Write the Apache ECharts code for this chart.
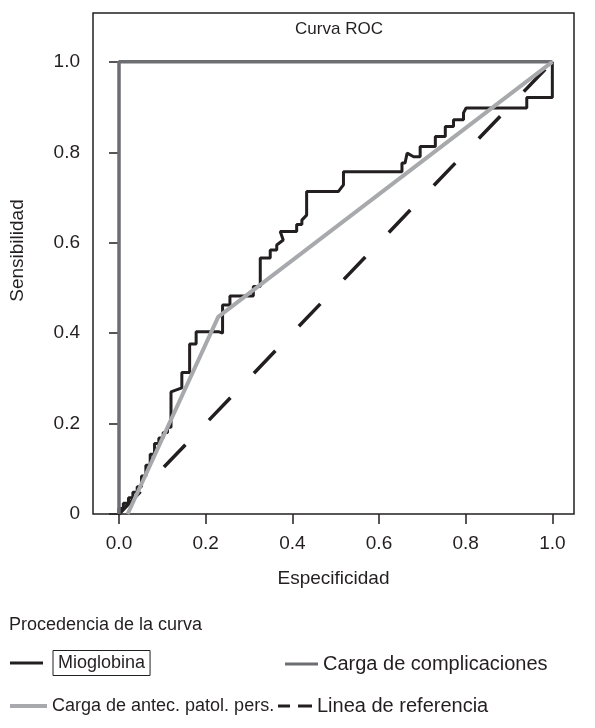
<!DOCTYPE html>
<html>
<head>
<meta charset="utf-8">
<script src="https://cdn.jsdelivr.net/npm/echarts@6/dist/echarts.min.js"></script>
<style>
  html, body { margin: 0; padding: 0; background: #fff; }
  #chart { width: 595px; height: 728px; }
</style>
</head>
<body>
<div id="chart"></div>
<script>
// ticks
const xTicks = [0, 0.2, 0.4, 0.6, 0.8, 1.0];
const yTicks = [0, 0.2, 0.4, 0.6, 0.8, 1.0];
const yTickLabels = ['0', '0.2', '0.4', '0.6', '0.8', '1.0'];

// Mioglobina (curva escalonada)
const mioX = [0, 0, 0.01, 0.01, 0.022, 0.022, 0.032, 0.032, 0.042, 0.042, 0.052, 0.052,
  0.062, 0.062, 0.072, 0.072, 0.082, 0.082, 0.092, 0.092, 0.102, 0.102, 0.112, 0.112,
  0.12, 0.12, 0.145, 0.145, 0.163, 0.163, 0.178, 0.178, 0.231, 0.239, 0.239, 0.256,
  0.256, 0.31, 0.31, 0.326, 0.326, 0.349, 0.349, 0.364, 0.364, 0.379, 0.372, 0.41,
  0.41, 0.422, 0.422, 0.433, 0.433, 0.506, 0.518, 0.518, 0.653, 0.653, 0.66, 0.665,
  0.68, 0.695, 0.695, 0.73, 0.73, 0.753, 0.753, 0.772, 0.772, 0.795, 0.795, 0.801,
  0.941, 0.941, 1.0, 1.0];
const mioY = [0, 0.012, 0.012, 0.024, 0.024, 0.036, 0.036, 0.048, 0.048, 0.06, 0.06, 0.084,
  0.084, 0.108, 0.108, 0.132, 0.132, 0.156, 0.156, 0.168, 0.168, 0.18, 0.18, 0.192,
  0.192, 0.27, 0.279, 0.313, 0.313, 0.376, 0.376, 0.403, 0.403, 0.4, 0.462, 0.462,
  0.482, 0.482, 0.503, 0.503, 0.566, 0.566, 0.584, 0.584, 0.595, 0.606, 0.625, 0.625,
  0.64, 0.64, 0.65, 0.661, 0.713, 0.713, 0.728, 0.757, 0.757, 0.776, 0.776, 0.798,
  0.79, 0.79, 0.813, 0.813, 0.835, 0.835, 0.857, 0.857, 0.872, 0.872, 0.887, 0.898,
  0.898, 0.921, 0.921, 1.0];

// Carga de complicaciones
const compX = [0, 0, 1];
const compY = [0, 1, 1];
// Carga de antec. patol. pers.
const antecX = [0.02, 0.229, 1];
const antecY = [0, 0.436, 1];
// Linea de referencia
const refX = [0, 1];
const refY = [0, 1];

const zip = (xs, ys) => xs.map((x, i) => [x, ys[i]]);

const font = "'Liberation Sans', Arial, sans-serif";
const ink = '#231f20';
const gray = '#6d6e71';
const lightGray = '#a7a9ac';

const chart = echarts.init(document.getElementById('chart'));

// leyendas: una por curva, colocadas a mano en dos columnas
const legendBase = {
  orient: 'horizontal',
  selectedMode: false,
  padding: 0,
  itemStyle: { borderWidth: 0 },
  textStyle: { fontFamily: font, fontSize: 18, color: ink },
};
const legendRight = { fontFamily: font, fontSize: 20, color: ink };

chart.setOption({
  animation: false,
  textStyle: { fontFamily: font },
  title: [
    {
      text: 'Curva ROC',
      left: 334,
      top: 16,
      textAlign: 'center',
      textStyle: { fontFamily: font, fontSize: 17, fontWeight: 'normal', color: ink },
    },
    {
      text: 'Procedencia de la curva',
      left: 9,
      top: 616,
      padding: 0,
      textStyle: { fontFamily: font, fontSize: 18, fontWeight: 'normal', color: ink },
    },
  ],
  grid: {
    left: 93,
    right: 21,
    top: 13,
    bottom: 214,
    show: true,
    borderColor: ink,
    borderWidth: 1.5,
    containLabel: false,
    outerBoundsMode: 'none',
  },
  xAxis: {
    type: 'value',
    min: -0.06,
    max: 1.05,
    name: 'Especificidad',
    nameLocation: 'middle',
    nameGap: 55,
    nameTextStyle: { fontFamily: font, fontSize: 19, color: ink },
    axisLine: { show: false },
    splitLine: { show: false },
    axisTick: { show: true, customValues: xTicks, length: 10, lineStyle: { color: ink, width: 1.5 } },
    axisLabel: {
      customValues: xTicks,
      margin: 20,
      fontFamily: font,
      fontSize: 19,
      color: ink,
      formatter: v => v.toFixed(1),
    },
  },
  yAxis: {
    type: 'value',
    min: 0,
    max: 1.108,
    name: 'Sensibilidad',
    nameLocation: 'middle',
    nameGap: 66,
    nameTextStyle: { fontFamily: font, fontSize: 19, color: ink, padding: [0, 0, 0, 26] },
    axisLine: { show: false },
    splitLine: { show: false },
    axisTick: { show: true, customValues: yTicks, length: 10, lineStyle: { color: ink, width: 1.5 } },
    axisLabel: {
      customValues: yTicks,
      margin: 13,
      fontFamily: font,
      fontSize: 19,
      color: ink,
      formatter: v => yTickLabels[yTicks.indexOf(v)] ?? '',
    },
  },
  legend: [
    {
      ...legendBase,
      data: [{ name: 'Mioglobina', icon: 'rect' }],
      itemWidth: 33,
      itemHeight: 3,
      left: 10,
      top: 650,
      formatter: ' {box|{name}}',
      textStyle: {
        ...legendBase.textStyle,
        rich: {
          box: {
            fontFamily: font,
            fontSize: 18,
            color: ink,
            borderColor: ink,
            borderWidth: 1,
            padding: [4, 5, 3, 5],
          },
        },
      },
    },
    {
      ...legendBase,
      data: [{ name: 'Carga de complicaciones', icon: 'rect' }],
      itemWidth: 33,
      itemHeight: 3,
      left: 285,
      top: 654,
      textStyle: legendRight,
    },
    {
      ...legendBase,
      data: [{ name: 'Carga de antec. patol. pers.', icon: 'rect' }],
      itemWidth: 37,
      itemHeight: 4,
      left: 10,
      top: 697,
    },
    {
      ...legendBase,
      data: [{ name: 'Linea de referencia', icon: 'path://M0,0h12v3h-12zM20,0h14v3h-14z' }],
      itemWidth: 34,
      itemHeight: 3.5,
      left: 278,
      top: 696,
      textStyle: legendRight,
    },
  ],
  series: [
    {
      name: 'Linea de referencia',
      type: 'line',
      data: zip(refX, refY),
      symbol: 'none',
      z: 1,
      lineStyle: { color: ink, width: 3.5, type: [31, 34], cap: 'butt' },
      itemStyle: { color: ink },
    },
    {
      name: 'Mioglobina',
      type: 'line',
      data: zip(mioX, mioY),
      symbol: 'none',
      z: 2,
      lineStyle: { color: ink, width: 3 },
      itemStyle: { color: ink },
    },
    {
      name: 'Carga de complicaciones',
      type: 'line',
      data: zip(compX, compY),
      symbol: 'none',
      z: 2,
      lineStyle: { color: gray, width: 3.5 },
      itemStyle: { color: gray },
    },
    {
      name: 'Carga de antec. patol. pers.',
      type: 'line',
      data: zip(antecX, antecY),
      symbol: 'none',
      z: 3,
      lineStyle: { color: lightGray, width: 4 },
      itemStyle: { color: lightGray },
    },
  ],
});
</script>
</body>
</html>
